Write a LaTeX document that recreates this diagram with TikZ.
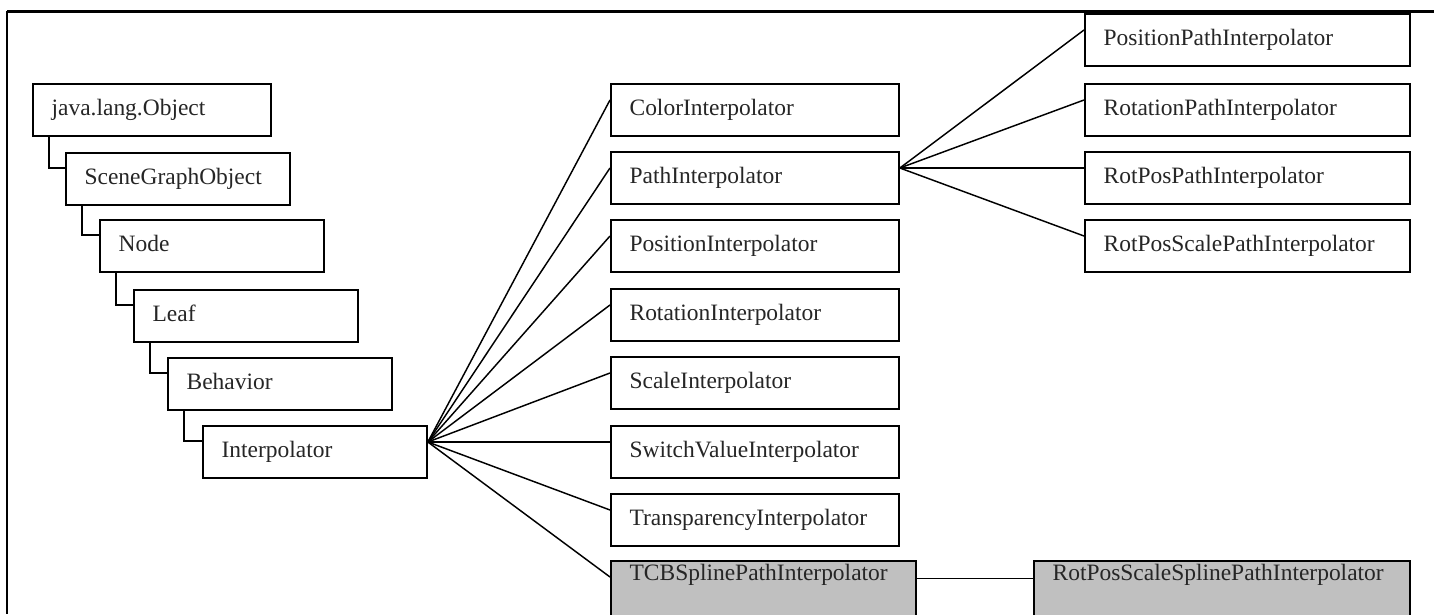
\documentclass[tikz,border=0pt]{standalone}
\usepackage{fontspec}
\setmainfont{Liberation Serif}
\definecolor{selgray}{RGB}{192,192,192}
\begin{document}
\begin{tikzpicture}[x=0.75pt, y=-0.75pt,
    font=\fontsize{17.6}{20}\selectfont,
    cls/.style={draw, line width=1.4pt, anchor=north west, align=left,
      inner xsep=14pt, inner ysep=0pt, minimum height=39pt,
      text height=12pt, text depth=4pt, text width=#1, text=black!85},
    sel/.style={cls=#1, fill=selgray, minimum height=0pt, inner ysep=3pt, text depth=36pt},
    link/.style={line width=1.1pt}]
  \useasboundingbox (0,0) rectangle (1434,614);
  \fill[white] (0,0) rectangle (1434,614);

  % frame
  \draw[line width=2.25pt] (7,11.5) -- (1434,11.5);
  \draw[line width=1.1pt] (7,11) -- (7,614);

  % class hierarchy
  \node[cls=150.5pt] (obj) at (32,83) {java.lang.Object};
  \node[cls=140pt] (sgo) at (65,152) {SceneGraphObject};
  \node[cls=140pt] (nd) at (99,219) {Node};
  \node[cls=140pt] (leaf) at (133,289) {Leaf};
  \node[cls=140pt] (behav) at (167,357) {Behavior};
  \node[cls=140pt] (interp) at (202,425) {Interpolator};

  % subclasses of Interpolator
  \node[cls=188pt] (colori) at (610,83) {ColorInterpolator};
  \node[cls=188pt] (pathi) at (610,151) {PathInterpolator};
  \node[cls=188pt] (posi) at (610,219) {PositionInterpolator};
  \node[cls=188pt] (roti) at (610,288) {RotationInterpolator};
  \node[cls=188pt] (scalei) at (610,356) {ScaleInterpolator};
  \node[cls=188pt] (switchi) at (610,425) {SwitchValueInterpolator};
  \node[cls=188pt] (transpi) at (610,493) {TransparencyInterpolator};
  \node[sel=200.75pt] (tcbi) at (610,560) {TCBSplinePathInterpolator};

  % subclasses of PathInterpolator
  \node[cls=215.75pt] (ppath) at (1084,13) {PositionPathInterpolator};
  \node[cls=215.75pt] (rpath) at (1084,83) {RotationPathInterpolator};
  \node[cls=215.75pt] (rppath) at (1084,151) {RotPosPathInterpolator};
  \node[cls=215.75pt] (rpspath) at (1084,219) {RotPosScalePathInterpolator};
  \node[sel=254pt] (rpsspline) at (1033,560) {RotPosScaleSplinePathInterpolator};

  \foreach \a/\b in {obj/sgo, sgo/nd, nd/leaf, leaf/behav, behav/interp}
    \draw[link] (\a.south west) ++(17,0) |- ([yshift=-12pt]\b.north west);

  \foreach \b in {colori, pathi, posi, roti, scalei, switchi, transpi, tcbi}
    \draw[link] ([yshift=-12.75pt]interp.north east) -- ([yshift=-12.75pt]\b.north west);

  \foreach \b in {ppath, rpath, rppath, rpspath}
    \draw[link] ([yshift=-12.75pt]pathi.north east) -- ([yshift=-12.75pt]\b.north west);

  \draw[link] ([yshift=-14pt]tcbi.north east) -- ([yshift=-14pt]rpsspline.north west);
\end{tikzpicture}
\end{document}
